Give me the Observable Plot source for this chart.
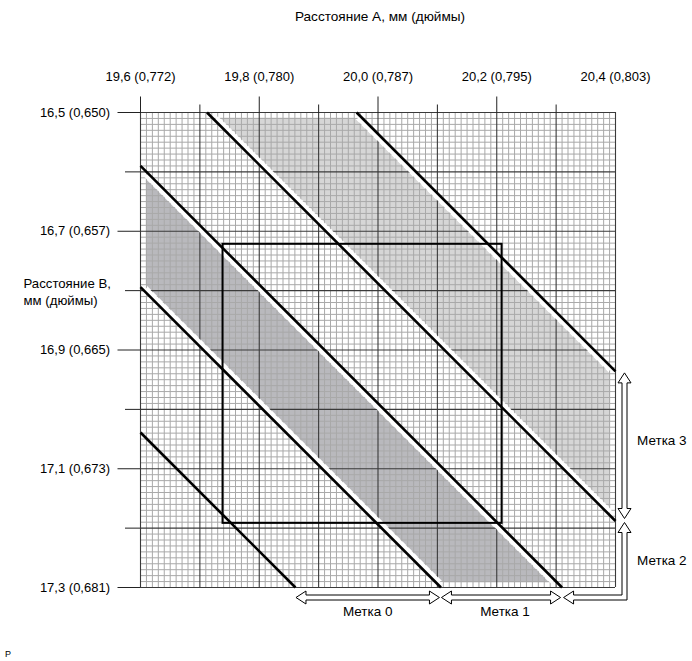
<!DOCTYPE html>
<html><head><meta charset="utf-8">
<script src="https://cdn.jsdelivr.net/npm/d3@7"></script>
<script src="https://cdn.jsdelivr.net/npm/@observablehq/plot@0.6"></script>
<style>
body{margin:0;background:#fff;font-family:'Liberation Sans',Arial,sans-serif;color:#000}
#title{width:692px;height:36px;box-sizing:border-box;padding:9px 0 0 68px;text-align:center;font-size:13.6px;line-height:16px}
#caption{height:16px;box-sizing:border-box;padding:4px 0 0 5px;font-size:9px;line-height:10px}
</style></head><body>
<div id="title">Расстояние А, мм (дюймы)</div>
<div id="chart"></div>
<div id="caption">P</div>
<script>
// ---- data (mm) ----
const xTickValues = [19.6, 19.8, 20.0, 20.2, 20.4];
const xTickLabels = ["19,6 (0,772)", "19,8 (0,780)", "20,0 (0,787)", "20,2 (0,795)", "20,4 (0,803)"];
const yTickValues = [16.5, 16.7, 16.9, 17.1, 17.3];
const yTickLabels = ["16,5 (0,650)", "16,7 (0,657)", "16,9 (0,665)", "17,1 (0,673)", "17,3 (0,681)"];
const xLongTicks = [19.6, 19.8, 20.0, 20.2];
const xShortTicks = [19.7, 19.9, 20.1, 20.3];
const yLongTicks = [16.5, 16.7, 16.9, 17.1, 17.3];
const yShortTicks = [16.6, 16.8, 17.0, 17.2];
const sideLabel = "Расстояние В,\nмм (дюймы)";
const sideLabelB = 16.8;
// boundary lines: A − B = const
const lineOffsets = [2.561, 2.806, 3.010, 3.212, 3.464];
// shaded bands (between two boundary lines)
const bandLower = [2.806, 3.212];
const bandUpper = [3.010, 3.464];
// rectangle
const boxA = [19.739, 20.209];
const boxB = [16.722, 17.192];
const markLabels = ["Метка 0", "Метка 1", "Метка 2", "Метка 3"];

// ---- styles ----
const bandFills = ["#b9b9bd", "#d6d6d6"];
const FONT = "'Liberation Sans', Arial, sans-serif";
const A0 = 19.6, A1 = 20.4, B0 = 16.5, B1 = 17.3;
const inset = 0.009, bandGap = 0.013, stripGap = 0.0065;

const fmt = v => v.toFixed(1);
const xLab = new Map(xTickValues.map((v, i) => [fmt(v), xTickLabels[i]]));
const yLab = new Map(yTickValues.map((v, i) => [fmt(v), yTickLabels[i]]));

function clipHalf(poly, f) {
  const out = [];
  for (let i = 0; i < poly.length; i++) {
    const p = poly[i], q = poly[(i + 1) % poly.length];
    const fp = f(p), fq = f(q);
    if (fp >= 0) out.push(p);
    if ((fp >= 0) !== (fq >= 0)) {
      const t = fp / (fp - fq);
      out.push([p[0] + t * (q[0] - p[0]), p[1] + t * (q[1] - p[1])]);
    }
  }
  return out;
}
function segment(c, a0, a1, b0, b1) {
  const s = Math.max(a0, b0 + c), e = Math.min(a1, b1 + c);
  return {a1: s, b1: s - c, a2: e, b2: e - c};
}
const ia0 = A0 + inset, ia1 = A1 - inset, ib0 = B0 + inset, ib1 = B1 - inset;
const bandPolys = bandLower.map((lo, i) => {
  let poly = [[ia0, ib0], [ia1, ib0], [ia1, ib1], [ia0, ib1]];
  poly = clipHalf(poly, p => (p[0] - p[1]) - (lo + bandGap));
  poly = clipHalf(poly, p => (bandUpper[i] - bandGap) - (p[0] - p[1]));
  return poly.map(p => ({a: p[0], b: p[1]}));
});
const strips = [];
bandLower.forEach((lo, i) => {
  strips.push(segment(lo + stripGap, ia0, ia1, ib0, ib1));
  strips.push(segment(bandUpper[i] - stripGap, ia0, ia1, ib0, ib1));
});
const lines = lineOffsets.map(c => segment(c, A0, A1, B0, B1));

const minorA = d3.range(0, 81).filter(i => i % 10).map(i => A0 + i * 0.01);
const minorB = d3.range(0, 81).filter(i => i % 10).map(i => B0 + i * 0.01);
const majorA = d3.range(0, 9).map(i => A0 + i * 0.1);
const majorB = d3.range(0, 9).map(i => B0 + i * 0.1);

function annotations(index, scales) {
  const x = scales.x, y = scales.y;
  const g = d3.create("svg:g");
  const yb = y(B1) + 10.5;
  const xr = x(A1) + 9.5;
  const bx = lineOffsets.slice(0, 3).map(c => x(B1 + c));
  const ry = lineOffsets.slice(3).map(c => y(A1 - c));
  const w = 2.5, hw = 6.5, hl = 10;
  const hArrow = (x1, x2, cy) => [[x1, cy], [x1 + hl, cy - hw], [x1 + hl, cy - w], [x2 - hl, cy - w], [x2 - hl, cy - hw], [x2, cy], [x2 - hl, cy + hw], [x2 - hl, cy + w], [x1 + hl, cy + w], [x1 + hl, cy + hw]];
  const vArrow = (cx, y1, y2) => hArrow(y1, y2, cx).map(([a, b]) => [b, a]);
  const lArrow = (xl, cy, cx, yt) => [[cx, yt], [cx + hw, yt + hl], [cx + w, yt + hl], [cx + w, cy + w], [xl + hl, cy + w], [xl + hl, cy + hw], [xl, cy], [xl + hl, cy - hw], [xl + hl, cy - w], [cx - w, cy - w], [cx - w, yt + hl], [cx - hw, yt + hl]];
  const shapes = [
    hArrow(bx[0] + 1, bx[1] - 1, yb),
    hArrow(bx[1] + 1, bx[2] - 1, yb),
    lArrow(bx[2] + 2, yb, xr, ry[0] + 2),
    vArrow(xr, ry[1] + 2, ry[0] - 2)
  ];
  g.selectAll("path").data(shapes).join("path")
    .attr("d", p => "M" + p.map(q => q.join(",")).join("L") + "Z")
    .attr("fill", "white").attr("stroke", "black").attr("stroke-width", 1);
  const labs = [
    {t: markLabels[0], x: (bx[0] + bx[1]) / 2, y: yb + 13.5, anchor: "middle"},
    {t: markLabels[1], x: (bx[1] + bx[2]) / 2 + 4, y: yb + 13.5, anchor: "middle"},
    {t: markLabels[2], x: xr + 12.5, y: (ry[0] + yb) / 2 + 1, anchor: "start"},
    {t: markLabels[3], x: xr + 12.5, y: (ry[0] + ry[1]) / 2 - 5, anchor: "start"}
  ];
  g.selectAll("text").data(labs).join("text")
    .attr("x", d => d.x).attr("y", d => d.y).attr("dy", "0.35em")
    .attr("text-anchor", d => d.anchor)
    .attr("font-size", 13.5).attr("font-family", FONT).attr("fill", "#000")
    .text(d => d.t);
  return g.node();
}

const chart = Plot.plot({
  width: 692, height: 609,
  marginTop: 76, marginBottom: 58, marginLeft: 140, marginRight: 77,
  x: {domain: [A0, A1], axis: null, label: null},
  y: {domain: [B0, B1], reverse: true, axis: null, label: null},
  style: {fontFamily: FONT, background: "white", color: "black", display: "block", overflow: "visible"},
  marks: [
    ...bandPolys.map((poly, i) => Plot.line(poly, {x: "a", y: "b", fill: bandFills[i], stroke: "none"})),
    Plot.ruleX(minorA, {stroke: "#a9a9a9", strokeWidth: 1}),
    Plot.ruleY(minorB, {stroke: "#a9a9a9", strokeWidth: 1}),
    Plot.ruleX(majorA, {stroke: "#3a3a3a", strokeWidth: 1.1}),
    Plot.ruleY(majorB, {stroke: "#3a3a3a", strokeWidth: 1.1}),
    Plot.link(strips, {x1: "a1", y1: "b1", x2: "a2", y2: "b2", stroke: "white", strokeWidth: 4.5}),
    Plot.link(lines, {x1: "a1", y1: "b1", x2: "a2", y2: "b2", stroke: "black", strokeWidth: 2.6}),
    Plot.rect([{a1: boxA[0], a2: boxA[1], b1: boxB[0], b2: boxB[1]}], {x1: "a1", x2: "a2", y1: "b1", y2: "b2", fill: "none", stroke: "black", strokeWidth: 2}),
    Plot.axisX(xLongTicks, {anchor: "top", tickSize: 16.5, tickFormat: () => "", label: null, stroke: "#222"}),
    Plot.axisX(xShortTicks, {anchor: "top", tickSize: 8.5, tickFormat: () => "", label: null, stroke: "#222"}),
    Plot.axisX(xTickValues, {anchor: "top", tickSize: 0, tickPadding: 32, tickFormat: d => xLab.get(fmt(d)), label: null, fontSize: 13, fill: "#000"}),
    Plot.axisY(yLongTicks, {anchor: "left", tickSize: 22.5, tickFormat: () => "", label: null, stroke: "#222"}),
    Plot.axisY(yShortTicks, {anchor: "left", tickSize: 15, tickFormat: () => "", label: null, stroke: "#222"}),
    Plot.axisY(yTickValues, {anchor: "left", tickSize: 0, tickPadding: 30.5, tickFormat: d => yLab.get(fmt(d)), label: null, fontSize: 13, fill: "#000"}),
    Plot.text([{b: sideLabelB, t: sideLabel}], {y: "b", text: "t", frameAnchor: "left", dx: -117, textAnchor: "start", lineHeight: 1.3, fontSize: 13.2, fill: "#000"}),
    annotations
  ]
});
document.getElementById("chart").appendChild(chart);
</script>
</body></html>
